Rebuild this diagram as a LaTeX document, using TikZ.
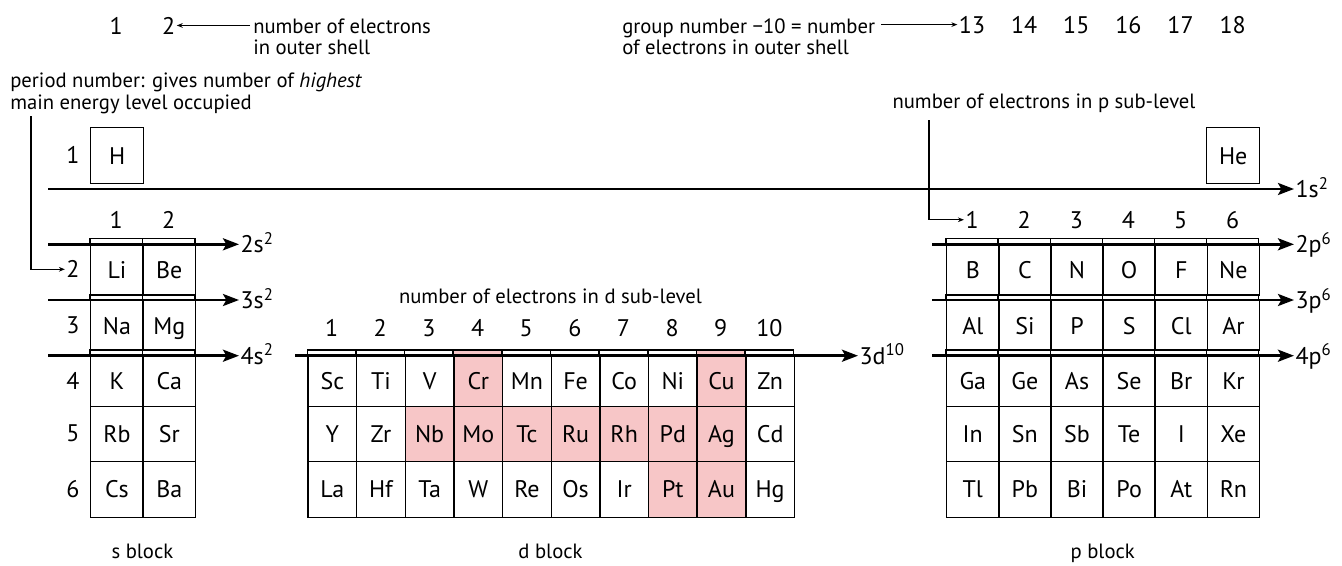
\documentclass[tikz,border=0pt]{standalone}
\usepackage{fontspec}
\setmainfont{PT Sans}
\usetikzlibrary{arrows.meta}
\definecolor{pinkcell}{RGB}{247,198,199}
\newcommand{\elfont}{\fontsize{18}{20}\selectfont}
\newcommand{\lbfont}{\fontsize{15.5}{17}\selectfont}
\begin{document}
\begin{tikzpicture}[x=0.75pt,y=-0.75pt,
  cellbox/.style={draw, line width=1.1pt, inner sep=0pt, anchor=north west, text height=12.6pt, text depth=0pt, font=\elfont},
  num/.style={font=\elfont, inner sep=1pt, text height=12.6pt, text depth=0pt},
  numb/.style={font=\elfont, inner sep=1pt, anchor=base},
  sub/.style={font=\elfont, inner sep=1pt, anchor=west, text height=12.6pt, text depth=0pt},
  lab/.style={font=\lbfont, inner sep=0pt},
  big/.style={line width=2pt, -{Stealth[length=12pt,width=9pt,inset=2.5pt]}},
  thin/.style={line width=0.8pt, -{Stealth[length=4.5pt,width=3.5pt]}},
  stripline/.style={line width=1.1pt},
]
\useasboundingbox (0,0) rectangle (1342,565);

% ---------- top annotations ----------
\node[numb] (g1) at (116.2,34) {1};
\node[numb] (g2) at (168.6,34) {2};
\node[lab, anchor=base west] (ne1) at (253,33) {number of electrons};
\node[lab, anchor=base west] (ne2) at (253,54) {in outer shell};
\draw[thin] (ne1.west |- g2.east) ++(-3,0) -- (g2.east);

\node[lab, anchor=base west] (gn1) at (622,33) {group number −10 = number};
\node[lab, anchor=base west] (gn2) at (622,54) {of electrons in outer shell};
\foreach \n [count=\i from 0] in {13,...,18}
  \node[numb] (t\n) at ({946+52.12*(\i+0.5)},33) {\n};
\draw[thin] (gn1.east |- t13.west) ++(6,0) -- (t13.west);

\node[lab, anchor=base west] (pt1) at (10,87.5) {period number: gives number of \textit{highest}};
\node[lab, anchor=base west] (pt2) at (10,109.5) {main energy level occupied};
\node[lab, anchor=base] (psub) at (1044,108.5) {number of electrons in p sub-level};

% ---------- period 1 ----------
\node[num] (row1) at (73,155) {1};
\node[cellbox, minimum width=39.75pt, minimum height=42pt] (H) at (90,127) {H};
\node[cellbox, minimum width=39.75pt, minimum height=42pt] (He) at (1206,127) {He};

% ---------- s block ----------
\node[numb] (sg1) at (116.2,228.3) {1};
\node[numb] (sg2) at (168.6,228.3) {2};
\foreach \t in {238.7,294.3,350}
  \draw[stripline] (90,\t) rectangle (142.4,\t+5.6) (142.4,\t) rectangle (194.8,\t+5.6);
\foreach \e/\f/\r/\t/\h in {Li/Be/2/244.3/50, Na/Mg/3/300/50, K/Ca/4/355.7/49.8, Rb/Sr/5/405.5/55.5, Cs/Ba/6/461/55.5}{
  \node[cellbox, minimum width=39.3pt, minimum height=\h*0.75pt] (\e) at (90,\t) {\e};
  \node[cellbox, minimum width=39.3pt, minimum height=\h*0.75pt] (\f) at (142.4,\t) {\f};
  \node[num] (row\r) at (73,\t+\h/2) {\r};
}

% ---------- p block ----------
\foreach \n [count=\i from 0] in {1,...,6}
  \node[numb] (pn\n) at ({946+52.12*(\i+0.5)},228.3) {\n};
\foreach \t in {238.7,294.3,350}
  \foreach \i in {0,...,5}
    \draw[stripline] ({946+52.12*\i},\t) rectangle ({946+52.12*(\i+1)},\t+5.6);
\foreach \t/\h/\lst in {244.3/50/{B,C,N,O,F,Ne}, 300/50/{Al,Si,P,S,Cl,Ar}, 355.7/49.8/{Ga,Ge,As,Se,Br,Kr}, 405.5/55.5/{In,Sn,Sb,Te,I,Xe}, 461/55.5/{Tl,Pb,Bi,Po,At,Rn}}{
  \foreach \e [count=\i from 0] in \lst
    \node[cellbox, minimum width=39.09pt, minimum height=\h*0.75pt] (\e) at ({946+52.12*\i},\t) {\e};
}

% ---------- d block ----------
\node[lab, anchor=base] (dsub) at (550.5,303.3) {number of electrons in d sub-level};
\foreach \n [count=\i from 0] in {1,...,10}
  \node[numb] (dn\n) at ({307.3+48.64*(\i+0.5)},336) {\n};
\foreach \c [count=\i from 0] in {white,white,white,pinkcell,white,white,white,white,pinkcell,white}
  \draw[stripline, fill=\c] ({307.3+48.64*\i},350) rectangle ({307.3+48.64*(\i+1)},355.7);
\foreach \t/\h/\lst in {355.7/49.8/{Sc/white,Ti/white,V/white,Cr/pinkcell,Mn/white,Fe/white,Co/white,Ni/white,Cu/pinkcell,Zn/white},
                        405.5/55.5/{Y/white,Zr/white,Nb/pinkcell,Mo/pinkcell,Tc/pinkcell,Ru/pinkcell,Rh/pinkcell,Pd/pinkcell,Ag/pinkcell,Cd/white},
                        461/55.5/{La/white,Hf/white,Ta/white,W/white,Re/white,Os/white,Ir/white,Pt/pinkcell,Au/pinkcell,Hg/white}}{
  \foreach \e/\c [count=\i from 0] in \lst
    \node[cellbox, fill=\c, minimum width=36.48pt, minimum height=\h*0.75pt] (\e) at ({307.3+48.64*\i},\t) {\e};
}

% ---------- energy level arrows ----------
\coordinate (a1) at (48,189);
\node[sub] (l1s) at (1294,189) {1s\textsuperscript{2}};
\draw[big] (a1) -- (l1s.west);

\coordinate (a2) at (48,244.3);
\node[sub] (l2s) at (239,244.3) {2s\textsuperscript{2}};
\draw[big] (a2) -- (l2s.west);
\coordinate (a3) at (48,300);
\node[sub] (l3s) at (239,300) {3s\textsuperscript{2}};
\draw[big] (a3) -- (l3s.west);
\coordinate (a4) at (48,355.7);
\node[sub] (l4s) at (239,355.7) {4s\textsuperscript{2}};
\draw[big] (a4) -- (l4s.west);

\coordinate (ad) at (295,355.7);
\node[sub] (l3d) at (858,355.7) {3d\textsuperscript{10}};
\draw[big] (ad) -- (l3d.west);

\coordinate (b2) at (932,244.3);
\node[sub] (l2p) at (1294,244.3) {2p\textsuperscript{6}};
\draw[big] (b2) -- (l2p.west);
\coordinate (b3) at (932,300);
\node[sub] (l3p) at (1294,300) {3p\textsuperscript{6}};
\draw[big] (b3) -- (l3p.west);
\coordinate (b4) at (932,355.7);
\node[sub] (l4p) at (1294,355.7) {4p\textsuperscript{6}};
\draw[big] (b4) -- (l4p.west);

% ---------- label connectors ----------
\coordinate (perstart) at (31,116);
\draw[thin] (perstart) |- (row2.west);
\coordinate (pstart) at (929,120);
\draw[thin] (pstart) |- (pn1.west);

% ---------- block names ----------
\node[lab, anchor=base] (sblk) at (142.4,558) {s block};
\node[lab, anchor=base] (dblk) at (550.5,558) {d block};
\node[lab, anchor=base] (pblk) at (1102.7,558) {p block};
\end{tikzpicture}
\end{document}
